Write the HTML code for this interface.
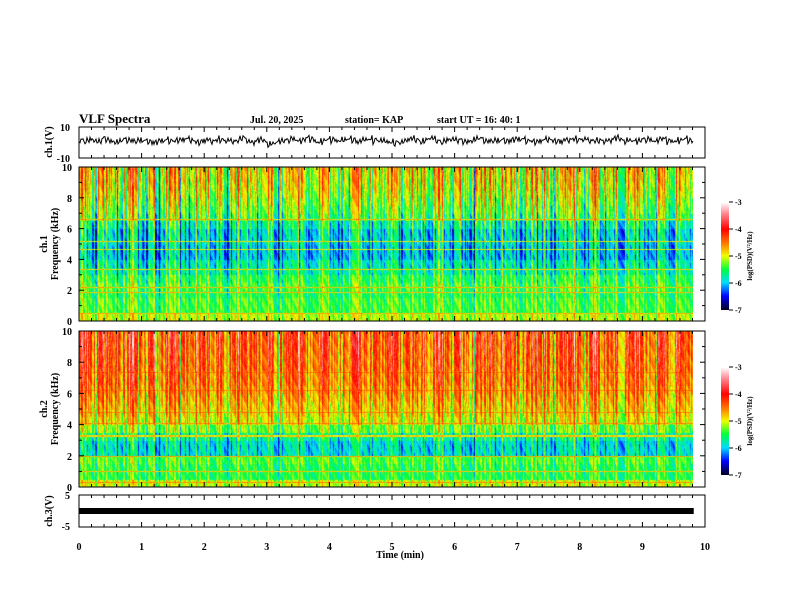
<!DOCTYPE html>
<html><head><meta charset="utf-8"><style>
body{margin:0;background:#fff;width:792px;height:612px;overflow:hidden;position:relative;font-family:"Liberation Serif",serif}
canvas{position:absolute}
svg{position:absolute;left:0;top:0}
text{font-family:"Liberation Serif",serif;font-weight:bold;fill:#000}
</style></head><body>
<canvas id="sp1" width="614" height="154" style="left:79px;top:167px"></canvas>
<canvas id="sp2" width="614" height="156" style="left:79px;top:331px"></canvas>
<canvas id="cb1" width="8" height="108" style="left:721px;top:202px"></canvas>
<canvas id="cb2" width="8" height="108" style="left:721px;top:367px"></canvas>
<svg id="ax" width="792" height="612"></svg>
<script>
// ---- data ----
const bands1=[-5.1,-5.4,-5.4,-5.5,-5.4,-5.5,-5.7,-5.8,-6.0,-6.0,-5.9,-5.9,-5.7,-5.4,-5.3,-5.2,-5.1,-5.0,-4.95,-4.9];
const bands2=[-5.1,-5.5,-5.5,-5.4,-5.9,-5.9,-5.7,-5.3,-5.0,-4.9,-4.8,-4.7,-4.6,-4.5,-4.5,-4.4,-4.4,-4.35,-4.3,-4.3];
const activity1=[0.6,0.2,-0.3,0.5,0.7,0.1,-0.4,0.3,0.8,0.2,-0.2,0.4,-0.5,0.1,0.6,0.7,0.0,-0.3,0.4,0.2,0.5,-0.1,0.3,-0.6,0.2,0.4,0.6,0.1,-0.2,0.3,0.5,-0.4,0.0,0.2,0.7,0.3,-0.3,0.1,0.4,0.6,-0.1,-0.5,0.2,0.5,0.8,0.1,-0.2,0.3,0.0,0.4,0.6,-0.3,0.2,0.5,0.1,-0.4,0.3,0.7,0.2,-0.1,0.4,0.0,-0.5,0.3,0.6,0.2,-0.2,0.5,0.1,0.3,-0.4,0.2,0.6,0.0,0.4,-0.3,0.1,0.5,0.7,0.2,-0.2,0.3,0.6,-0.1,0.0,0.4,-0.5,0.2,0.6,0.3,-0.3,0.1,0.5,0.2,-0.4,0.3,0.4,0.1];
const activity2=[0.7,0.5,0.1,0.6,0.8,0.4,0.0,0.5,0.9,0.3,0.2,0.6,-0.2,0.3,0.7,0.8,0.2,0.0,0.5,0.4,0.6,0.1,0.5,-0.3,0.3,0.6,0.7,0.3,0.0,0.4,0.6,-0.2,0.2,0.4,0.8,0.5,-0.1,0.3,0.5,0.7,0.1,-0.3,0.4,0.6,0.9,0.3,0.0,0.5,0.2,0.6,0.7,-0.1,0.4,0.6,0.3,-0.2,0.5,0.8,0.4,0.1,0.6,0.2,-0.3,0.5,0.7,0.4,0.0,0.6,0.3,0.5,-0.2,0.4,0.7,0.2,0.6,-0.1,0.3,0.6,0.8,0.4,0.0,0.5,0.7,0.1,0.2,0.6,-0.3,0.4,0.7,0.5,-0.1,0.3,0.6,0.4,-0.2,0.5,0.6,0.3];
const texture=[0.3,-0.4,0.1,0.6,-0.2,-0.6,0.4,0.0,-0.3,0.5,-0.5,0.2,0.7,-0.1,-0.4,0.3,0.0,-0.7,0.5,0.1,-0.2];
const texture2=[-0.2,0.5,-0.6,0.1,0.4,-0.3,0.7,-0.5,0.0,0.3,-0.1,0.6,-0.4,0.2,-0.7,0.4,0.1];
const lines1=[0.5,1.9,2.2,3.4,4.7,5.2,6.6];
const lines2=[0.3,1.0,2.0,3.3,4.1,4.8,6.2,7.4];
const ch1Wave=[2,0,1,-1,3,0,-2,1,2,-1,0,1,-3,0,2,-1,1,3,0,-2,1,0,2,-1,1,0,3,-1,0,1,-4,-2,0,1,2,0,3,1,-1,0,2,1,0,3,-1,1,2,0,1,-2,-3,0,1,2,0,1,3,-1,0,2,1,-1,0,3,1,0,-1,2,0,1,3,0,-2,1,2,0,-1,1,3,0,2,1,-1,0,2,3,0,1,-1,2,1,0,3,-1,1,0,2,-1];
const xTicks=[0,1,2,3,4,5,6,7,8,9,10];
const fTicks=[0,2,4,6,8,10];
const cbTicks=[-3,-4,-5,-6,-7];
const tEnd=9.82;
// ---- scales ----
const X0=79,X1=705;
const xs=t=>X0+(X1-X0)*t/10;
function cmap(v){
  const s=[[-7,[0,0,40]],[-6.5,[0,0,255]],[-6,[0,220,255]],[-5.5,[0,255,60]],[-5,[240,255,0]],[-4.6,[255,140,0]],[-4,[255,0,0]],[-3.4,[255,140,150]],[-3,[255,255,255]]];
  if(v<=-7)return s[0][1];if(v>=-3)return s[8][1];
  for(let i=0;i<8;i++){if(v<=s[i+1][0]){const f=(v-s[i][0])/(s[i+1][0]-s[i][0]);return s[i][1].map((c,k)=>Math.round(c+(s[i+1][1][k]-c)*f));}}
}
function drawSpec(id,bands,act,lines,mean){
  const c=document.getElementById(id),g=c.getContext('2d'),W=c.width,H=c.height;
  const im=g.createImageData(W,H);
  for(let x=0;x<W;x++){
    const t=x/(xs(10)-X0)*10;
    const a=act[Math.min(act.length-1,Math.floor(t/tEnd*act.length))]-mean;
    const tx=texture[x%texture.length]+texture2[(x*3)%texture2.length];
    for(let y=0;y<H;y++){
      const f=10*(1-y/H);
      let v=bands[Math.min(19,Math.floor(f*2))];
      const w=0.35+0.65*f/10;
      v+=w*(a*0.9+tx*0.75)+0.3*texture2[(y*5+x*7)%texture2.length];
      for(const L of lines)if(Math.abs(f-L)<0.035)v=v*0.4+(-4.3)*0.6;
      const col=cmap(v),i=(y*W+x)*4;
      im.data[i]=col[0];im.data[i+1]=col[1];im.data[i+2]=col[2];im.data[i+3]=255;
    }
  }
  g.putImageData(im,0,0);
}
drawSpec('sp1',bands1,activity1,lines1,0.2);
drawSpec('sp2',bands2,activity2,lines2,0.35);
for(const id of['cb1','cb2']){const c=document.getElementById(id),g=c.getContext('2d');
  for(let y=0;y<108;y++){const col=cmap(-3-4*y/107);g.fillStyle=`rgb(${col})`;g.fillRect(0,y,8,1);}}
// ---- svg ----
const svg=document.getElementById('ax'),NS='http://www.w3.org/2000/svg';
function el(tag,attrs,txt){const e=document.createElementNS(NS,tag);for(const k in attrs)e.setAttribute(k,attrs[k]);if(txt!==undefined)e.textContent=txt;svg.appendChild(e);return e;}
const panels=[{n:'ch1-wave-panel',t:127,b:158},{n:'ch1-spec-panel',t:167,b:321},{n:'ch2-spec-panel',t:331,b:487},{n:'ch3-panel',t:495,b:527}];
for(const p of panels){
  const r=el('rect',{x:X0,y:p.t,width:X1-X0,height:p.b-p.t,fill:'none',stroke:'#000','stroke-width':1});
  
  for(let i=0;i<=50;i++){const x=xs(i/5),len=i%5==0?5:3;
    el('line',{x1:x,x2:x,y1:p.t,y2:p.t+len,stroke:'#000'});el('line',{x1:x,x2:x,y1:p.b,y2:p.b-len,stroke:'#000'});}
}
// ch1 waveform
let d='';const x1=xs(tEnd);
for(let x=X0;x<=x1;x++){const u=(x-X0)/(x1-X0)*(ch1Wave.length-1),i=Math.floor(u),fr=u-i;
  const base=ch1Wave[i]*(1-fr)+(ch1Wave[Math.min(i+1,ch1Wave.length-1)])*fr;
  let v=base*0.8+3.5*texture[(x*5)%texture.length]+2.5*texture2[(x*3)%texture2.length];
  const y=141-v*1.1;d+=(x>X0?'L':'M')+x+','+y.toFixed(1);}
const wp=el('path',{d:d,fill:'none',stroke:'#000','stroke-width':1});

// ch3 bar
const bar=el('rect',{x:X0,y:508,width:xs(tEnd)-X0,height:6,fill:'#000'});

// y labels
el('text',{x:70,y:131,'font-size':10,'text-anchor':'end'},'10');
el('text',{x:70,y:162,'font-size':10,'text-anchor':'end'},'-10');
el('text',{x:70,y:499,'font-size':10,'text-anchor':'end'},'5');
el('text',{x:70,y:530,'font-size':10,'text-anchor':'end'},'-5');
[[167,321],[331,487]].forEach(([t,b])=>{
  for(const f of fTicks){const y=b-(b-t)*f/10;el('text',{x:72,y:y+4,'font-size':10,'text-anchor':'end'},String(f));}
  for(let f=0;f<=10;f++){const y=b-(b-t)*f/10,len=f%2==0?5:3;el('line',{x1:X0,x2:X0+len,y1:y,y2:y,stroke:'#000'});el('line',{x1:X1,x2:X1-len,y1:y,y2:y,stroke:'#000'});}
});
for(const t of xTicks){const e=el('text',{x:xs(t),y:550,'font-size':10,'text-anchor':'middle'},String(t));}
el('text',{x:400,y:558,'font-size':10,'text-anchor':'middle'},'Time  (min)');
function rot(x,y,s,lines){const g=el('text',{transform:`translate(${x},${y}) rotate(-90)`,'font-size':s,'text-anchor':'middle'});
  lines.forEach((l,i)=>{const ts=document.createElementNS(NS,'tspan');ts.setAttribute('x',0);ts.setAttribute('dy',i?s+1:0);ts.textContent=l;g.appendChild(ts);});return g;}
rot(52,142,10,['ch.1(V)']);
rot(47,244,10,['ch.1','Frequency  (kHz)']);
rot(47,409,10,['ch.2','Frequency  (kHz)']);
rot(52,511,10,['ch.3(V)']);
el('text',{x:79,y:123,'font-size':13},'VLF Spectra');
el('text',{x:250,y:123,'font-size':10},'Jul. 20, 2025');
el('text',{x:345,y:123,'font-size':10},'station= KAP');
el('text',{x:437,y:123,'font-size':10},'start  UT =   16: 40: 1');
[[202,310],[367,475]].forEach(([t,b],k)=>{
  cbTicks.forEach((v,i)=>{const y=t+(b-t)*i/4;el('line',{x1:729,x2:733,y1:y,y2:y,stroke:'#000'});el('text',{x:735,y:y+3,'font-size':8},String(v));});
  rot(752,(t+b)/2,7,['log(PSD)(V²/Hz)']);
});
</script>
</body></html>
